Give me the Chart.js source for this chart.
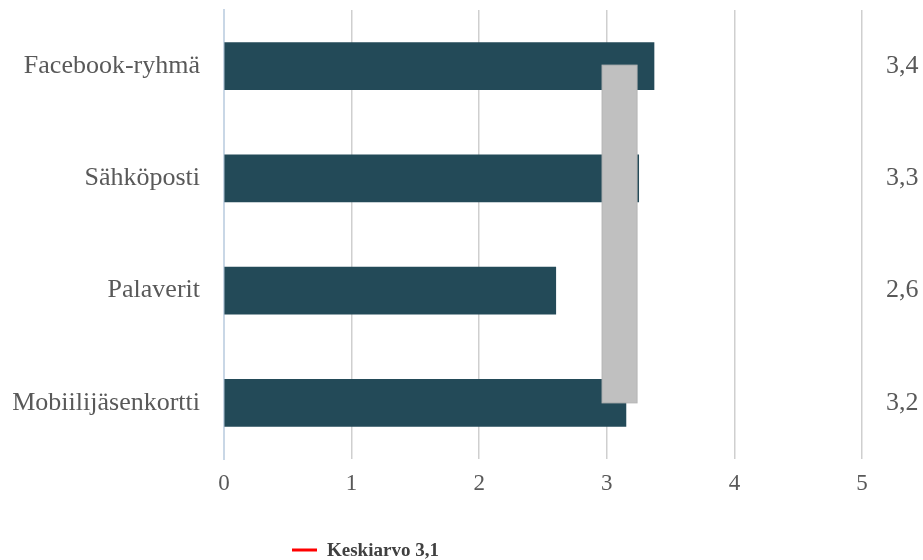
<!DOCTYPE html>
<html>
<head>
<meta charset="utf-8">
<script src="https://cdn.jsdelivr.net/npm/chart.js@4/dist/chart.umd.min.js"></script>
<style>
html,body{margin:0;padding:0;background:#fff;}
#wrap{width:923px;height:560px;position:relative;}
</style>
</head>
<body>
<div id="wrap"><canvas id="c" width="923" height="560"></canvas></div>
<script>
const categories = ['Facebook-ryhmä', 'Sähköposti', 'Palaverit', 'Mobiilijäsenkortti'];
const values = [3.37, 3.25, 2.60, 3.15];
const valueLabels = ['3,4', '3,3', '2,6', '3,2'];
const xTicks = [0, 1, 2, 3, 4, 5];
const averageValue = 3.1;
const averageLabel = 'Keskiarvo 3,1';

const serif = '"Liberation Serif", "Times New Roman", serif';

const averagePlugin = {
  id: 'averageBox',
  afterDatasetsDraw(chart) {
    const ctx = chart.ctx;
    const x = chart.scales.x;
    const y = chart.scales.y;
    const cx = x.getPixelForValue(averageValue);
    const top = y.getPixelForValue(0) - 1;
    const bottom = y.getPixelForValue(categories.length - 1);
    ctx.save();
    ctx.fillStyle = '#c0c0c0';
    ctx.fillRect(cx - 17.5, top, 35, bottom - top);
    ctx.strokeStyle = '#b4b4b4';
    ctx.lineWidth = 1;
    ctx.strokeRect(cx - 17.5, top, 35, bottom - top);
    ctx.restore();
  },
  afterDraw(chart) {
    const ctx = chart.ctx;
    const left = chart.chartArea.left + 68;
    const yc = 550;
    ctx.save();
    ctx.strokeStyle = '#ff0000';
    ctx.lineWidth = 3;
    ctx.beginPath();
    ctx.moveTo(left, yc);
    ctx.lineTo(left + 25, yc);
    ctx.stroke();
    ctx.fillStyle = '#404040';
    ctx.font = 'bold 19px ' + serif;
    ctx.textBaseline = 'middle';
    ctx.textAlign = 'left';
    ctx.fillText(averageLabel, left + 35, yc + 1);
    ctx.restore();
  }
};

new Chart(document.getElementById('c'), {
  type: 'bar',
  data: {
    labels: categories,
    datasets: [{
      label: averageLabel,
      data: values,
      backgroundColor: '#234a58',
      borderWidth: 0,
      barThickness: 47
    }]
  },
  options: {
    indexAxis: 'y',
    responsive: false,
    animation: false,
    layout: { padding: { top: 10, left: 0, right: 0, bottom: 0 } },
    plugins: {
      legend: { display: false },
      tooltip: { enabled: false }
    },
    scales: {
      x: {
        type: 'linear',
        min: xTicks[0],
        max: xTicks[xTicks.length - 1],
        afterBuildTicks(scale) { scale.ticks = xTicks.map(v => ({ value: v })); },
        afterFit(scale) { scale.height = 101; scale.paddingLeft = 0; scale.paddingRight = 0; },
        grid: { color: '#cfcfcf', lineWidth: 1.5, drawTicks: false },
        border: { display: false },
        ticks: {
          color: '#595959',
          font: { family: serif, size: 23 },
          padding: 11
        }
      },
      y: {
        position: 'left',
        afterFit(scale) { scale.width = 224; scale.paddingTop = 0; scale.paddingBottom = 0; },
        grid: { display: false, drawTicks: false },
        border: { display: true, color: '#c9d7e6', width: 2 },
        ticks: {
          color: '#595959',
          font: { family: serif, size: 26 },
          padding: 24
        }
      },
      y2: {
        type: 'category',
        position: 'right',
        labels: valueLabels,
        offset: true,
        afterFit(scale) { scale.width = 61; scale.paddingTop = 0; scale.paddingBottom = 0; },
        grid: { display: false, drawTicks: false, offset: true },
        border: { display: false },
        ticks: {
          color: '#595959',
          font: { family: serif, size: 26 },
          padding: 24
        }
      }
    }
  },
  plugins: [averagePlugin]
});
</script>
</body>
</html>
